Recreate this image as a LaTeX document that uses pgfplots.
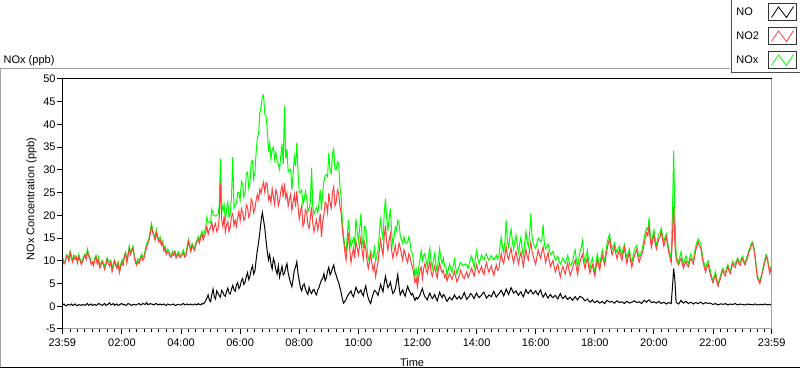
\documentclass[border=0pt]{standalone}
\usepackage{fontspec}
\setmainfont{Liberation Sans}
\usepackage{pgfplots}
\usepackage{pgfplotstable}
\pgfplotsset{compat=1.18}
\definecolor{noxgreen}{RGB}{0,255,0}
\definecolor{no2red}{RGB}{255,64,64}
\definecolor{framegray}{RGB}{160,160,160}
\pgfplotstableread{
t no no2 nox
0 0.3 10.2 10.6
2.5 0.5 9.3 9.8
5 0.2 9.6 9.9
7.5 0.1 11.1 11.3
10 0.4 10.8 11.3
12.5 0.3 9.9 10.3
15 0.3 11.8 12.2
17.5 0.5 10.6 11.2
20 0.2 9.7 10.0
22.5 0.3 10.9 11.3
25 0.5 10.3 10.9
27.5 0.2 10.8 11.1
30 0.1 9.5 9.7
32.5 0.4 10.9 11.4
35 0.3 10.1 10.5
37.5 0.2 9.2 9.5
40 0.4 9.8 10.3
42.5 0.3 10.6 11.0
45 0.2 11.2 11.5
47.5 0.4 10.3 10.8
50 0.6 12.0 12.6
52.5 0.2 11.1 11.4
55 0.3 10.4 10.8
57.5 0.5 9.2 9.8
60 0.2 9.6 9.9
62.5 0.3 8.9 9.3
65 0.4 10.2 10.7
67.5 0.2 10.9 11.2
70 0.3 9.3 9.7
72.5 0.6 10.1 10.8
75 0.5 8.4 9.0
77.5 0.3 9.1 9.5
80 0.2 9.8 10.1
82.5 0.4 9.0 9.5
85 0.6 8.1 8.8
87.5 0.2 9.2 9.5
90 0.3 10.3 10.7
92.5 0.5 9.4 10.0
95 0.8 8.8 9.7
97.5 0.3 9.7 10.1
100 0.4 7.6 8.1
102.5 0.6 8.7 9.4
105 0.2 9.9 10.2
107.5 0.4 9.0 9.5
110 0.5 8.3 8.9
112.5 0.2 9.4 9.7
115 0.3 7.4 7.8
117.5 0.5 8.6 9.2
120 0.6 9.6 10.3
122.5 0.3 9.0 9.4
125 0.4 10.8 11.3
127.5 0.2 11.6 11.9
130 0.3 9.5 9.9
132.5 0.6 11.0 11.7
135 0.5 12.7 13.3
137.5 0.3 11.4 11.8
140 0.2 12.2 12.5
142.5 0.4 12.8 13.3
145 0.4 10.9 11.4
147.5 0.3 9.6 10.0
150 0.3 9.0 9.4
152.5 0.5 9.9 10.5
155 0.6 9.4 10.1
157.5 0.3 10.3 10.7
160 0.4 11.0 11.5
162.5 0.6 10.1 10.8
165 0.5 10.6 11.2
167.5 0.4 11.9 12.4
170 0.8 12.9 13.8
172.5 0.4 13.7 14.2
175 0.4 14.5 15.0
177.5 0.6 15.9 16.6
180 0.5 17.6 18.2
182.5 0.4 16.3 16.8
185 0.3 15.4 15.8
187.5 0.5 14.6 15.2
190 0.6 16.2 16.9
192.5 0.3 15.0 15.4
195 0.4 14.1 14.6
197.5 0.5 14.7 15.3
200 0.3 13.4 13.8
202.5 0.4 13.9 14.4
205 0.5 12.2 12.8
207.5 0.3 12.8 13.2
210 0.2 11.4 11.7
212.5 0.5 12.0 12.6
215 0.4 11.8 12.3
217.5 0.3 11.0 11.4
220 0.3 10.7 11.1
222.5 0.4 11.6 12.1
225 0.5 11.2 11.8
227.5 0.2 11.9 12.2
230 0.2 10.6 10.9
232.5 0.4 11.1 11.6
235 0.4 11.5 12.0
237.5 0.3 10.7 11.1
240 0.3 10.9 11.3
242.5 0.5 11.3 11.9
245 0.6 11.7 12.4
247.5 0.3 10.8 11.2
250 0.4 11.1 11.6
252.5 0.5 12.6 13.2
255 0.3 14.3 14.7
257.5 0.4 13.1 13.6
260 0.5 12.0 12.6
262.5 0.3 13.4 13.8
265 0.3 12.8 13.2
267.5 0.5 12.3 12.9
270 0.4 13.5 14.0
272.5 0.3 14.2 14.6
275 0.6 14.7 15.4
277.5 0.4 13.9 14.4
280 0.3 15.2 15.6
282.5 0.6 15.8 16.5
285 0.5 14.6 15.2
287.5 0.8 15.4 16.3
290 1.2 16.1 17.4
292.5 1.8 17.6 19.6
295 2.5 15.8 18.5
297.5 1.4 16.9 18.5
300 1.0 17.3 18.4
302.5 2.6 18.5 21.3
305 3.8 16.4 20.3
307.5 2.1 17.6 19.9
310 1.6 18.2 19.9
312.5 3.4 16.5 20.1
315 2.9 17.0 20.1
317.5 2.3 19.4 22.0
320 2.0 27.2 32.5
322.5 3.5 19.1 22.8
325 3.1 17.5 21.0
327.5 2.4 19.8 22.4
330 2.2 16.3 18.8
332.5 3.3 17.9 21.4
335 4.0 18.6 22.9
337.5 2.9 16.4 19.6
340 2.7 17.4 20.3
342.5 3.8 19.8 24.1
345 4.6 20.4 32.8
347.5 3.6 17.8 21.6
350 3.3 18.9 22.4
352.5 4.7 17.6 22.6
355 5.2 19.6 25.0
357.5 3.9 20.9 25.0
360 4.4 18.8 23.4
362.5 5.6 21.5 27.5
365 6.1 20.6 27.0
367.5 4.8 18.9 24.1
370 5.3 19.4 25.1
372.5 6.5 22.3 29.2
375 7.4 21.8 29.5
377.5 5.9 19.6 26.0
380 6.6 20.3 27.2
382.5 8.1 23.6 31.9
385 8.9 22.9 32.1
387.5 7.1 20.6 28.0
390 7.8 21.5 29.6
392.5 10.2 23.4 33.9
395 12.4 24.6 37.2
397.5 14.1 23.5 37.9
400 16.3 25.8 42.5
402.5 18.8 24.9 44.0
405 20.6 26.4 46.2
407.5 19.0 27.3 46.5
410 17.2 25.1 42.4
412.5 14.5 27.2 41.9
415 12.1 26.8 39.0
417.5 10.2 23.5 34.0
420 11.4 24.3 36.0
422.5 9.3 22.8 32.4
425 8.2 25.9 34.5
427.5 10.5 24.1 35.0
430 9.6 22.4 32.3
432.5 8.0 25.6 33.9
435 7.1 24.8 32.0
437.5 8.9 22.1 31.3
440 6.4 23.2 30.1
442.5 7.6 25.2 33.1
445 8.8 26.6 35.7
447.5 6.9 24.0 31.2
450 7.3 27.0 44.0
452.5 8.5 23.8 32.6
455 9.4 24.9 34.5
457.5 7.3 22.0 29.6
460 6.2 23.5 30.0
462.5 5.1 24.6 30.1
465 4.3 21.1 25.6
467.5 6.0 22.8 29.1
470 7.9 24.6 32.8
472.5 8.6 21.9 30.8
475 9.8 25.3 36.0
477.5 7.2 22.0 29.6
480 5.6 19.2 25.0
482.5 4.1 20.8 25.1
485 3.4 22.1 25.6
487.5 4.6 17.6 22.4
490 4.9 18.4 23.5
492.5 3.8 21.2 25.3
495 3.1 20.6 24.0
497.5 2.6 18.0 20.8
500 4.2 17.1 21.4
502.5 3.2 19.5 22.9
505 2.8 21.9 30.5
507.5 3.5 18.2 21.9
510 3.7 16.4 20.3
512.5 2.9 17.9 21.0
515 2.5 19.0 21.7
517.5 3.6 16.8 20.6
520 4.1 18.3 22.6
522.5 5.0 20.4 25.6
525 5.8 15.2 21.2
527.5 6.1 18.6 24.9
530 7.2 20.1 27.5
532.5 5.6 22.9 28.7
535 6.3 22.4 28.9
537.5 7.7 20.6 28.5
540 8.6 24.9 33.8
542.5 6.9 22.8 29.9
545 7.5 21.6 29.3
547.5 8.4 25.1 33.7
550 9.1 26.3 34.6
552.5 7.6 22.1 30.0
555 6.8 23.0 30.0
557.5 5.9 25.6 31.8
560 5.2 24.8 31.5
562.5 4.1 22.0 26.3
565 3.0 20.5 24.0
567.5 1.6 16.9 18.7
570 0.7 14.6 15.5
572.5 1.1 12.0 13.2
575 1.5 10.2 11.8
577.5 2.2 13.1 15.5
580 2.6 16.2 19.0
582.5 3.0 12.5 15.6
585 3.4 9.6 13.1
587.5 2.5 11.4 14.0
590 2.1 12.8 15.0
592.5 3.1 10.6 13.8
595 4.2 14.4 19.3
597.5 3.5 12.9 16.5
600 2.9 11.3 14.3
602.5 3.2 13.4 16.8
605 3.6 15.1 20.4
607.5 2.8 12.2 15.1
610 2.3 10.4 12.8
612.5 3.6 13.9 17.6
615 4.5 12.6 17.4
617.5 2.9 10.1 13.1
620 1.8 8.3 10.2
622.5 1.1 9.7 10.9
625 0.6 11.4 12.1
627.5 1.8 9.4 11.3
630 2.7 7.9 10.7
632.5 3.5 9.1 12.8
635 3.3 6.5 9.9
637.5 2.9 8.2 11.2
640 2.4 9.8 12.3
642.5 3.6 12.2 16.0
645 4.8 14.6 19.6
647.5 4.0 12.6 16.8
650 3.2 11.2 14.5
652.5 5.1 15.4 20.6
655 6.6 17.8 23.7
657.5 5.2 14.1 19.4
660 4.1 12.4 16.6
662.5 4.6 14.6 19.3
665 5.3 15.9 21.5
667.5 3.9 12.3 16.3
670 2.8 10.6 13.5
672.5 3.2 12.1 15.4
675 3.9 13.4 17.4
677.5 5.4 11.2 16.7
680 7.0 11.8 18.9
682.5 4.3 13.9 18.3
685 2.5 12.9 15.5
687.5 3.1 11.4 14.6
690 3.6 10.1 13.8
692.5 2.8 12.4 15.3
695 2.2 11.6 13.9
697.5 3.5 10.4 14.0
700 4.4 9.6 14.1
702.5 3.6 11.6 15.3
705 3.1 10.8 14.0
707.5 2.5 9.4 12.0
710 2.8 8.6 11.5
712.5 2.0 6.9 9.0
715 1.3 5.2 6.6
717.5 1.9 6.1 8.1
720 1.6 4.3 6.0
722.5 2.0 6.4 8.5
725 2.4 7.8 10.3
727.5 3.3 8.6 12.2
730 3.9 6.1 10.1
732.5 2.8 8.3 11.2
735 2.1 9.4 11.6
737.5 1.8 8.1 10.0
740 1.4 7.2 8.7
742.5 2.3 8.6 11.0
745 2.9 9.8 12.8
747.5 2.2 7.6 9.9
750 1.7 6.6 8.4
752.5 2.1 7.9 10.1
755 2.6 8.9 11.6
757.5 1.8 7.3 9.2
760 1.2 6.2 7.5
762.5 2.2 8.1 10.4
765 3.1 9.5 12.7
767.5 2.4 8.2 10.7
770 1.9 7.4 9.4
772.5 2.6 7.9 10.6
775 2.3 6.4 8.8
777.5 1.6 7.0 8.7
780 1.1 5.6 6.8
782.5 1.5 6.4 8.0
785 2.0 7.2 9.3
787.5 1.7 6.6 8.4
790 1.4 5.9 7.4
792.5 1.9 6.8 8.8
795 2.5 7.7 10.3
797.5 2.0 6.5 8.6
800 1.6 5.4 7.1
802.5 1.9 6.1 8.1
805 2.2 6.8 9.1
807.5 1.6 7.9 9.6
810 1.8 7.3 9.2
812.5 2.4 6.4 8.9
815 3.0 6.1 9.2
817.5 2.2 7.0 9.3
820 1.5 7.6 9.2
822.5 1.9 6.3 8.3
825 2.2 6.9 9.2
827.5 2.8 7.7 10.6
830 2.6 8.4 11.1
832.5 2.1 7.5 9.7
835 1.7 6.6 8.4
837.5 2.4 8.1 10.6
840 2.9 9.2 12.2
842.5 2.3 8.0 10.4
845 1.9 7.3 9.3
847.5 2.2 8.1 10.4
850 2.4 8.8 11.3
852.5 2.9 7.6 10.6
855 3.1 7.0 10.2
857.5 2.4 8.6 11.1
860 1.8 9.6 11.5
862.5 2.1 8.4 10.6
865 2.5 7.5 10.1
867.5 2.3 8.3 10.7
870 2.1 8.9 11.1
872.5 2.8 7.6 10.5
875 3.3 6.8 10.2
877.5 2.6 8.0 10.7
880 2.0 9.1 11.2
882.5 2.4 7.9 10.4
885 2.7 8.2 11.0
887.5 3.1 10.0 13.2
890 3.5 11.6 15.2
892.5 2.9 10.1 13.1
895 2.3 9.4 11.8
897.5 3.0 11.3 14.4
900 3.8 13.2 18.9
902.5 3.2 11.0 14.3
905 2.6 10.3 13.0
907.5 3.4 11.7 15.2
910 4.1 12.8 17.0
912.5 3.5 10.9 14.5
915 2.9 9.6 12.6
917.5 3.1 11.0 14.2
920 3.4 12.1 15.6
922.5 2.8 10.6 13.5
925 2.4 9.3 11.8
927.5 2.9 10.8 13.8
930 3.2 11.9 15.2
932.5 2.5 10.1 12.7
935 2.1 8.8 11.0
937.5 2.9 10.9 13.9
940 3.7 12.6 16.4
942.5 3.1 11.0 14.2
945 2.8 10.2 13.1
947.5 3.3 12.3 15.7
950 3.6 14.1 20.4
952.5 3.0 12.1 15.2
955 2.7 11.0 13.8
957.5 3.1 10.0 13.2
960 3.4 9.2 12.7
962.5 2.8 11.0 13.9
965 2.5 12.4 15.0
967.5 3.2 11.3 14.6
970 3.6 10.5 14.2
972.5 2.6 12.0 14.7
975 2.0 13.1 18.0
977.5 2.5 11.2 13.8
980 2.9 9.6 12.6
982.5 2.2 10.8 13.1
985 1.8 11.8 13.7
987.5 2.3 10.0 12.4
990 2.6 8.7 11.4
992.5 2.1 9.5 11.7
995 1.9 10.1 12.1
997.5 2.2 8.7 11.0
1000 2.4 7.6 10.1
1002.5 1.9 8.6 10.6
1005 1.6 9.3 11.0
1007.5 2.3 7.6 9.9
1010 2.8 6.4 9.3
1012.5 2.1 7.8 9.9
1015 1.7 8.8 10.6
1017.5 2.0 7.8 9.9
1020 2.3 7.1 9.5
1022.5 1.8 8.5 10.4
1025 1.5 9.6 11.2
1027.5 1.8 8.0 9.9
1030 2.0 6.8 8.9
1032.5 1.6 7.7 9.4
1035 1.3 8.4 9.8
1037.5 1.8 9.5 11.4
1040 2.1 10.2 12.4
1042.5 1.7 8.4 10.2
1045 1.4 7.0 8.5
1047.5 1.9 8.6 10.6
1050 2.2 9.8 12.1
1052.5 2.0 10.8 12.9
1055 1.9 11.4 14.4
1057.5 1.5 9.6 11.2
1060 1.2 8.3 9.6
1062.5 1.4 9.7 11.2
1065 1.6 10.6 12.3
1067.5 1.2 8.7 9.9
1070 0.9 7.3 8.3
1072.5 1.1 8.4 9.6
1075 1.4 9.1 10.6
1077.5 1.0 7.7 8.8
1080 0.8 6.6 7.5
1082.5 1.0 8.6 9.7
1085 1.2 10.2 11.5
1087.5 0.9 9.0 10.0
1090 0.7 8.0 8.8
1092.5 0.9 9.8 10.8
1095 1.1 11.2 12.4
1097.5 0.8 10.0 10.9
1100 0.6 9.1 9.8
1102.5 1.0 11.0 12.1
1105 1.3 12.6 14.0
1107.5 1.1 13.9 15.1
1110 0.9 14.8 15.9
1112.5 1.0 12.7 13.8
1115 1.1 11.3 12.5
1117.5 0.8 12.2 13.1
1120 0.7 13.1 13.9
1122.5 1.0 11.6 12.7
1125 1.2 10.5 11.8
1127.5 1.0 11.6 12.7
1130 0.8 12.4 13.3
1132.5 0.9 11.0 12.0
1135 1.0 10.1 11.2
1137.5 0.8 11.7 12.6
1140 0.6 12.9 13.6
1142.5 0.9 11.0 12.0
1145 1.1 9.4 10.6
1147.5 0.9 10.8 11.8
1150 0.7 11.8 12.6
1152.5 0.8 10.0 10.9
1155 0.9 8.6 9.6
1157.5 1.0 9.9 11.0
1160 1.2 10.9 12.2
1162.5 1.0 11.9 13.0
1165 0.8 12.5 13.4
1167.5 0.9 10.9 11.9
1170 1.0 9.7 10.8
1172.5 0.8 10.6 11.5
1175 0.6 11.3 12.0
1177.5 1.0 12.2 13.3
1180 1.3 13.6 15.0
1182.5 1.1 15.1 16.3
1185 0.9 16.2 17.2
1187.5 1.2 15.5 16.8
1190 1.4 17.9 19.4
1192.5 1.1 14.6 15.8
1195 0.8 13.0 13.9
1197.5 0.9 14.6 15.6
1200 1.0 15.7 16.8
1202.5 0.8 13.8 14.7
1205 0.7 12.6 13.4
1207.5 0.9 13.9 14.9
1210 1.1 14.8 16.0
1212.5 0.8 15.3 16.2
1215 0.6 16.4 17.1
1217.5 0.8 14.6 15.5
1220 0.9 13.2 14.2
1222.5 0.7 14.4 15.2
1225 0.5 15.3 15.9
1227.5 0.7 13.3 14.1
1230 0.8 11.9 12.8
1232.5 0.7 10.7 11.5
1235 0.6 9.6 10.3
1237.5 4.2 15.0 20.4
1240 8.3 22.0 34.2
1242.5 5.7 13.6 19.5
1245 0.9 10.4 11.4
1247.5 0.7 9.5 10.3
1250 0.5 9.1 9.7
1252.5 0.9 9.9 10.9
1255 1.3 10.6 12.0
1257.5 0.9 9.3 10.3
1260 0.7 8.4 9.2
1262.5 0.9 9.3 10.3
1265 1.1 9.9 11.1
1267.5 0.8 9.1 10.0
1270 0.6 8.7 9.4
1272.5 0.8 9.8 10.7
1275 0.9 10.5 11.5
1277.5 0.7 9.8 10.6
1280 0.5 9.3 9.9
1282.5 0.7 11.0 11.8
1285 0.8 12.4 13.3
1287.5 0.7 13.4 14.2
1290 0.6 14.1 14.8
1292.5 0.8 13.2 14.1
1295 0.9 12.8 13.8
1297.5 0.7 11.0 11.8
1300 0.5 9.6 10.2
1302.5 0.7 8.4 9.2
1305 0.8 7.5 8.4
1307.5 0.7 8.6 9.4
1310 0.6 9.3 10.0
1312.5 0.7 7.9 8.7
1315 0.7 6.8 7.6
1317.5 0.5 5.8 6.4
1320 0.4 5.1 5.6
1322.5 0.5 6.2 6.8
1325 0.6 6.9 7.6
1327.5 0.4 5.4 5.9
1330 0.3 4.4 4.8
1332.5 0.4 5.4 5.9
1335 0.5 6.1 6.7
1337.5 0.5 7.2 7.8
1340 0.4 7.9 8.4
1342.5 0.5 7.0 7.6
1345 0.6 6.7 7.4
1347.5 0.4 7.9 8.4
1350 0.3 8.8 9.2
1352.5 0.4 7.7 8.2
1355 0.5 7.2 7.8
1357.5 0.4 8.5 9.0
1360 0.4 9.4 9.9
1362.5 0.5 8.7 9.3
1365 0.6 8.5 9.2
1367.5 0.4 9.6 10.1
1370 0.3 10.2 10.6
1372.5 0.4 9.3 9.8
1375 0.5 9.0 9.6
1377.5 0.4 10.1 10.6
1380 0.4 10.5 11.0
1382.5 0.3 9.6 10.0
1385 0.3 9.1 9.5
1387.5 0.4 10.0 10.5
1390 0.5 10.6 11.2
1392.5 0.4 11.8 12.3
1395 0.4 12.4 12.9
1397.5 0.4 13.4 13.9
1400 0.3 13.8 14.2
1402.5 0.4 12.7 13.2
1405 0.5 11.0 11.6
1407.5 0.4 8.4 8.9
1410 0.3 6.2 6.6
1412.5 0.3 5.6 6.0
1415 0.4 5.0 5.5
1417.5 0.4 6.1 6.6
1420 0.3 7.3 7.7
1422.5 0.4 8.6 9.1
1425 0.5 9.6 10.2
1427.5 0.4 10.9 11.4
1430 0.3 10.4 10.8
1432.5 0.4 8.8 9.3
1435 0.4 7.2 7.7
1437.5 0.3 8.3 8.7
1439 0.3 7.8 8.2
}\datatable
\begin{document}
\begin{tikzpicture}
\useasboundingbox (0pt,0pt) rectangle (800pt,369pt);
\fill[white] (0pt,0pt) rectangle (800pt,369pt);
\draw[framegray, line width=1pt] (0pt,300.5pt) -- (730pt,300.5pt);
\draw[framegray, line width=1pt] (0.5pt,300.5pt) -- (0.5pt,1.5pt);
\draw[black, line width=1pt] (0pt,1.5pt) -- (800pt,1.5pt);
\node[anchor=west, inner sep=0pt, font=\fontsize{11}{13}\selectfont] at (3.5pt,308.5pt) {NOx (ppb)};
\begin{axis}[
  at={(62.3pt,40pt)}, anchor=south west,
  scale only axis, width=709.4pt, height=250pt,
  xmin=-1, xmax=1439, ymin=-5, ymax=50,
  axis line style={draw=none},
  axis background/.style={fill=white},
  tick align=outside,
  xtick pos=bottom, ytick pos=left,
  major tick length=5pt, minor tick length=3pt,
  tick style={black, line width=1pt},
  xtick={-1,120,240,360,480,600,720,840,960,1080,1200,1320,1439},
  xticklabels={23:59,02:00,04:00,06:00,08:00,10:00,12:00,14:00,16:00,18:00,20:00,22:00,23:59},
  minor xtick={15,30,...,1425},
  ytick={-5,0,...,50},
  /pgf/number format/assume math mode=true,
  tick label style={font=\fontsize{11}{13}\selectfont},
  yticklabel style={inner sep=1.5pt},
  xticklabel style={inner sep=2pt, yshift=-3pt},
  xlabel={Time},
  ylabel={NOx Concentration (ppb)},
  label style={font=\fontsize{11}{13}\selectfont},
  xlabel style={at={(axis description cs:0.493,-0.133)}, anchor=center},
  ylabel style={at={(axis description cs:-0.0434,0.52)}, anchor=center},
  legend style={at={(1.042,1.322)}, anchor=north east, draw=black!70, line width=1pt, fill=white,
    font=\fontsize{11}{13}\selectfont, inner xsep=4pt, inner ysep=4pt, row sep=6pt,
    column sep=8pt, nodes={inner sep=1pt}},
  legend plot pos=right, legend cell align=left, reverse legend,
  legend image code/.code={
    \draw[black!80, line width=1pt, fill=white] (0pt,-8.5pt) rectangle (28pt,8.5pt);
    \draw[#1, line width=0.8pt] (3pt,-5.5pt) -- (10pt,5pt) -- (18pt,-5.5pt) -- (25pt,5.5pt);
  },
  after end axis/.code={
    \draw[framegray, line width=1pt] (rel axis cs:1,1) -- (rel axis cs:1,0) -- (rel axis cs:0,0);
    \draw[black, line width=1pt] (rel axis cs:0,0) -- (rel axis cs:0,1) -- (rel axis cs:1,1);
  },
]
\addplot[noxgreen, line width=1pt] table[x=t, y=nox] {\datatable};
\addlegendentry{NOx}
\addplot[no2red, line width=1pt] table[x=t, y=no2] {\datatable};
\addlegendentry{NO2}
\addplot[black, line width=1pt] table[x=t, y=no] {\datatable};
\addlegendentry{NO}
\end{axis}
\end{tikzpicture}
\end{document}
